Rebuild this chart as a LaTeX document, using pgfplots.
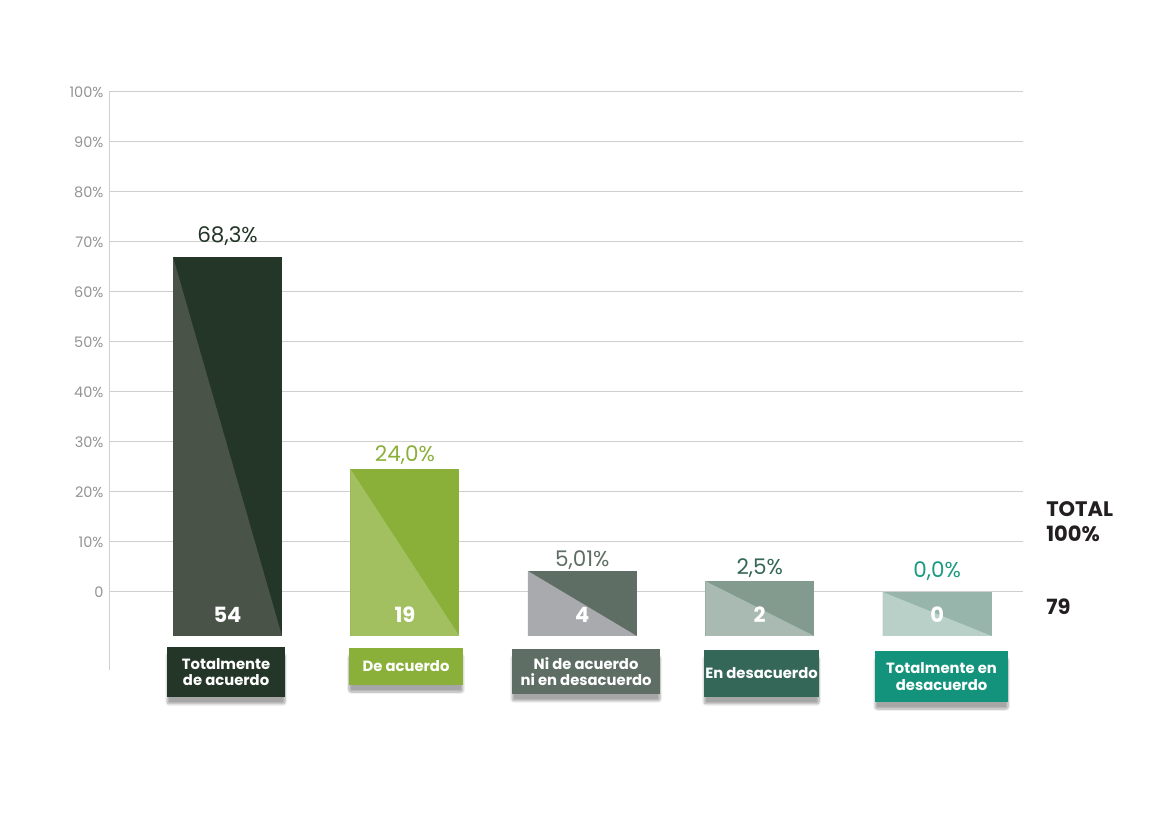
\documentclass[border=0pt]{standalone}
\usepackage{fontspec}
\setmainfont{Poppins}
\usepackage{pgfplots}
\pgfplotsset{compat=1.18}
\usetikzlibrary{shadows.blur}
\definecolor{gridgray}{HTML}{CFCFCF}
\definecolor{tickgray}{HTML}{939393}
\definecolor{aDark}{HTML}{243628}
\definecolor{aLight}{HTML}{4A5348}
\definecolor{bDark}{HTML}{8AB03A}
\definecolor{bLight}{HTML}{A3C061}
\definecolor{cDark}{HTML}{5E6E65}
\definecolor{cLight}{HTML}{A9AAAD}
\definecolor{dDark}{HTML}{839A8E}
\definecolor{dLight}{HTML}{A9BAB3}
\definecolor{dBox}{HTML}{356758}
\definecolor{eDark}{HTML}{97B5AA}
\definecolor{eLight}{HTML}{B8D0C8}
\definecolor{eBox}{HTML}{13937C}
\definecolor{eText}{HTML}{1A9A80}
\definecolor{totalText}{HTML}{231F20}
\begin{document}
\begin{tikzpicture}[x=1pt,y=1pt]
\path[use as bounding box] (-109,-143) rectangle (1041,670);
\begin{axis}[at={(0,0)}, anchor=south west, scale only axis,
  width=914pt, height=578pt,
  xmin=-0.668, xmax=4.484, ymin=-15.6, ymax=100,
  axis x line=none, axis y line=left,
  axis line style={draw=gridgray, line width=1pt, -},
  ytick={0,10,20,30,40,50,60,70,80,90,100},
  yticklabels={0,10\%,20\%,30\%,40\%,50\%,60\%,70\%,80\%,90\%,100\%},
  ymajorgrids, grid style={gridgray, line width=1pt},
  major tick length=0pt,
  yticklabel style={font=\fontsize{14.5}{15}\selectfont, text=tickgray, xshift=-2pt},
  /pgf/number format/assume math mode=true,
  clip=false]
% bar 1: Totalmente de acuerdo (54)
\addplot[fill=aDark, draw=none] coordinates {(-0.307,-8.8) (-0.307,67.0) (0.307,67.0) (0.307,-8.8)};
\addplot[fill=aLight, draw=none] coordinates {(-0.307,67.0) (-0.307,-8.8) (0.307,-8.8)};
% bar 2: De acuerdo (19)
\addplot[fill=bDark, draw=none] coordinates {(0.693,-8.8) (0.693,24.6) (1.307,24.6) (1.307,-8.8)};
\addplot[fill=bLight, draw=none] coordinates {(0.693,24.6) (0.693,-8.8) (1.307,-8.8)};
% bar 3: Ni de acuerdo ni en desacuerdo (4)
\addplot[fill=cDark, draw=none] coordinates {(1.693,-8.8) (1.693,4.2) (2.307,4.2) (2.307,-8.8)};
\addplot[fill=cLight, draw=none] coordinates {(1.693,4.2) (1.693,-8.8) (2.307,-8.8)};
% bar 4: En desacuerdo (2)
\addplot[fill=dDark, draw=none] coordinates {(2.693,-8.8) (2.693,2.2) (3.307,2.2) (3.307,-8.8)};
\addplot[fill=dLight, draw=none] coordinates {(2.693,2.2) (2.693,-8.8) (3.307,-8.8)};
% bar 5: Totalmente en desacuerdo (0)
\addplot[fill=eDark, draw=none] coordinates {(3.693,-8.8) (3.693,0.0) (4.307,0.0) (4.307,-8.8)};
\addplot[fill=eLight, draw=none] coordinates {(3.693,0.0) (3.693,-8.8) (4.307,-8.8)};
% value labels
\node[font=\fontsize{21.5}{22}\selectfont, text=aDark] at (axis cs:0,71.2) {68,3\%};
\node[font=\fontsize{21.5}{22}\selectfont, text=bDark] at (axis cs:1,27.4) {24,0\%};
\node[font=\fontsize{21.5}{22}\selectfont, text=cDark] at (axis cs:2,6.4) {5,01\%};
\node[font=\fontsize{21.5}{22}\selectfont, text=dBox] at (axis cs:3,4.8) {2,5\%};
\node[font=\fontsize{21.5}{22}\selectfont, text=eText] at (axis cs:4,4.2) {0,0\%};
% counts
\foreach \xx/\nn in {0/54,1/19,2/4,3/2,4/0}{
  \edef\tmp{\noexpand\node[font=\noexpand\fontsize{21}{21}\noexpand\selectfont\noexpand\bfseries, text=white] at (axis cs:\xx,-4.6) {\nn};}\tmp
}
% category boxes
\tikzset{catbox/.style={text=white, align=center, inner sep=0pt,
  font=\fontsize{14.8}{16.5}\selectfont\bfseries,
  blur shadow={shadow xshift=0pt, shadow yshift=-7pt, shadow opacity=35, shadow blur steps=8, shadow blur extra rounding=2pt}}}
\node[catbox, fill=aDark, minimum width=118pt, minimum height=50pt] at (axis cs:-0.008,-16.0) {Totalmente\\de acuerdo};
\node[catbox, fill=bDark, minimum width=114pt, minimum height=37pt] at (axis cs:1.006,-14.9) {De acuerdo};
\node[catbox, fill=cDark, minimum width=148pt, minimum height=45pt] at (axis cs:2.021,-15.9) {Ni de acuerdo\\ni en desacuerdo};
\node[catbox, fill=dBox, minimum width=115pt, minimum height=47pt] at (axis cs:3.010,-16.3) {En desacuerdo};
\node[catbox, fill=eBox, minimum width=133pt, minimum height=51pt] at (axis cs:4.025,-16.9) {Totalmente en\\desacuerdo};
% totals
\node[anchor=west, font=\fontsize{21}{21}\selectfont\bfseries, text=totalText, inner sep=0pt] at (axis cs:4.614,16.6) {TOTAL};
\node[anchor=west, font=\fontsize{21}{21}\selectfont\bfseries, text=totalText, inner sep=0pt] at (axis cs:4.614,11.6) {100\%};
\node[anchor=west, font=\fontsize{21}{21}\selectfont\bfseries, text=totalText, inner sep=0pt] at (axis cs:4.614,-3.0) {79};
\end{axis}
\end{tikzpicture}
\end{document}
